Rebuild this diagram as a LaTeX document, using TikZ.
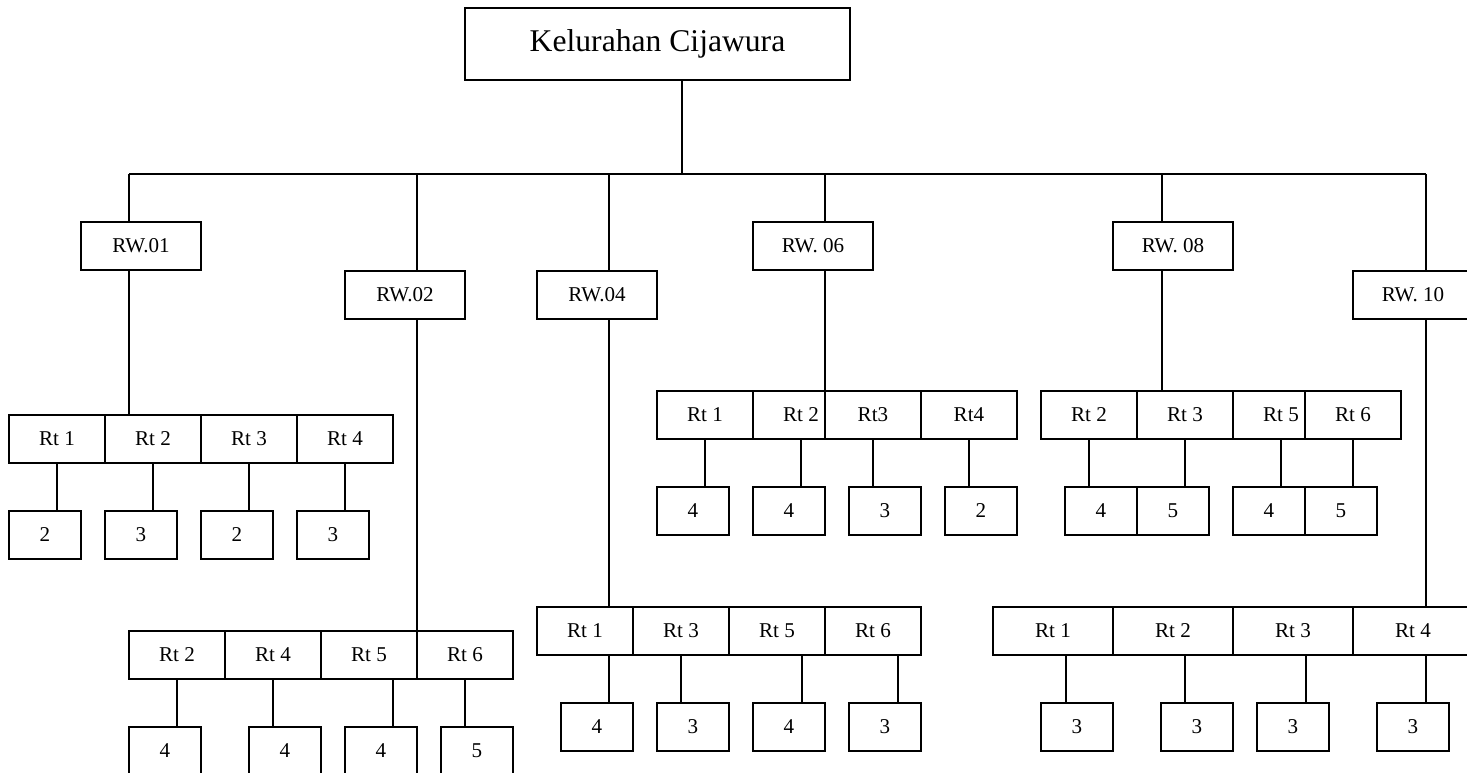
\documentclass[tikz,border=0pt]{standalone}
\usepackage{fontspec}
\setmainfont{Liberation Serif}
\usetikzlibrary{positioning}

\begin{document}
\begin{tikzpicture}[
    x=0.02cm, y=-0.02cm,
    line width=1pt,
    topNode/.style={rectangle, draw, fill=white, outer sep=0pt, inner sep=0pt, minimum width=7.7cm, minimum height=1.44cm, font=\fontsize{18}{20}\selectfont},
    rwNode/.style={rectangle, draw, fill=white, outer sep=0pt, inner sep=0pt, minimum width=2.4cm, minimum height=0.96cm, font=\fontsize{12}{14}\selectfont},
    rtNode/.style={rwNode, minimum width=1.92cm},
    numNode/.style={rwNode, minimum width=1.44cm}
]
    \useasboundingbox (0,0) rectangle (1467,773);
    \clip (0,0) rectangle (1467,773);

    % Top node
    \node[topNode] (kel) at (657.5,44) {Kelurahan Cijawura};

    % RW nodes
    \node[rwNode] (rw01) at (141,246) {RW.01};
    \node[rwNode] (rw02) at (405,295) {RW.02};
    \node[rwNode] (rw04) at (597,295) {RW.04};
    \node[rwNode] (rw06) at (813,246) {RW. 06};
    \node[rwNode] (rw08) at (1173,246) {RW. 08};
    \node[rwNode] (rw10) at (1413,295) {RW. 10};

    % RW.01
    \node[rtNode] (r01a) at (57,439) {Rt 1};
    \node[rtNode, right=0pt of r01a] (r01b) {Rt 2};
    \node[rtNode, right=0pt of r01b] (r01c) {Rt 3};
    \node[rtNode, right=0pt of r01c] (r01d) {Rt 4};
    \node[numNode] (c01a) at (45,535) {2};
    \node[numNode] (c01b) at (141,535) {3};
    \node[numNode] (c01c) at (237,535) {2};
    \node[numNode] (c01d) at (333,535) {3};

    % RW.02
    \node[rtNode] (r02a) at (177,655) {Rt 2};
    \node[rtNode, right=0pt of r02a] (r02b) {Rt 4};
    \node[rtNode, right=0pt of r02b] (r02c) {Rt 5};
    \node[rtNode, right=0pt of r02c] (r02d) {Rt 6};
    \node[numNode] (c02a) at (165,751) {4};
    \node[numNode] (c02b) at (285,751) {4};
    \node[numNode] (c02c) at (381,751) {4};
    \node[numNode] (c02d) at (477,751) {5};

    % RW.04
    \node[rtNode] (r04a) at (585,631) {Rt 1};
    \node[rtNode, right=0pt of r04a] (r04b) {Rt 3};
    \node[rtNode, right=0pt of r04b] (r04c) {Rt 5};
    \node[rtNode, right=0pt of r04c] (r04d) {Rt 6};
    \node[numNode] (c04a) at (597,727) {4};
    \node[numNode] (c04b) at (693,727) {3};
    \node[numNode] (c04c) at (789,727) {4};
    \node[numNode] (c04d) at (885,727) {3};

    % RW.06
    \node[rtNode] (r06a) at (705,415) {Rt 1};
    \node[rtNode, right=0pt of r06a] (r06b) {Rt 2};
    \node[rtNode, right=-0.48cm of r06b] (r06c) {Rt3};
    \node[rtNode, right=0pt of r06c] (r06d) {Rt4};
    \node[numNode] (c06a) at (693,511) {4};
    \node[numNode] (c06b) at (789,511) {4};
    \node[numNode] (c06c) at (885,511) {3};
    \node[numNode] (c06d) at (981,511) {2};

    % RW.08
    \node[rtNode] (r08a) at (1089,415) {Rt 2};
    \node[rtNode, right=0pt of r08a] (r08b) {Rt 3};
    \node[rtNode, right=0pt of r08b] (r08c) {Rt 5};
    \node[rtNode, right=-0.48cm of r08c] (r08d) {Rt 6};
    \node[numNode] (c08a) at (1101,511) {4};
    \node[numNode] (c08b) at (1173,511) {5};
    \node[numNode] (c08c) at (1269,511) {4};
    \node[numNode] (c08d) at (1341,511) {5};

    % RW.10
    \node[rwNode] (r10a) at (1053,631) {Rt 1};
    \node[rwNode, right=0pt of r10a] (r10b) {Rt 2};
    \node[rwNode, right=0pt of r10b] (r10c) {Rt 3};
    \node[rwNode, right=0pt of r10c] (r10d) {Rt 4};
    \node[numNode] (c10a) at (1077,727) {3};
    \node[numNode] (c10b) at (1197,727) {3};
    \node[numNode] (c10c) at (1293,727) {3};
    \node[numNode] (c10d) at (1413,727) {3};

    % Bus line
    \coordinate (top) at (682,174);
    \coordinate (b01) at (129,174);
    \coordinate (b02) at (417,174);
    \coordinate (b04) at (609,174);
    \coordinate (b06) at (825,174);
    \coordinate (b08) at (1162,174);
    \coordinate (b10) at (1426,174);
    \draw (kel.south -| top) -- (top);
    \draw (b01) -- (b10);

    % Drops to RW and Rt rows
    \draw (b01) -- (b01 |- rw01.north);
    \draw (b01 |- rw01.south) -- (b01 |- r01b.north);
    \draw (b02) -- (b02 |- rw02.north);
    \draw (b02 |- rw02.south) -- (b02 |- r02d.north);
    \draw (b04) -- (b04 |- rw04.north);
    \draw (b04 |- rw04.south) -- (b04 |- r04a.north);
    \draw (b06) -- (b06 |- rw06.north);
    \draw (b06 |- rw06.south) -- (b06 |- r06b.north);
    \draw (b08) -- (b08 |- rw08.north);
    \draw (b08 |- rw08.south) -- (b08 |- r08b.north);
    \draw (b10) -- (b10 |- rw10.north);
    \draw (b10 |- rw10.south) -- (b10 |- r10d.north);

    % Rt to counts
    \draw (r01a.south) -- (r01a.south |- c01a.north);
    \draw (r01b.south) -- (r01b.south |- c01b.north);
    \draw (r01c.south) -- (r01c.south |- c01c.north);
    \draw (r01d.south) -- (r01d.south |- c01d.north);

    \draw (r02a.south) -- (r02a.south |- c02a.north);
    \draw (r02b.south) -- (r02b.south |- c02b.north);
    \draw ([xshift=0.48cm]r02c.south) -- ([xshift=0.48cm]r02c.south |- c02c.north);
    \draw (r02d.south) -- (r02d.south |- c02d.north);

    \draw (b04 |- r04a.south) -- (b04 |- c04a.north);
    \draw (r04b.south) -- (r04b.south |- c04b.north);
    \draw ([xshift=0.5cm]r04c.south) -- ([xshift=0.5cm]r04c.south |- c04c.north);
    \draw ([xshift=0.5cm]r04d.south) -- ([xshift=0.5cm]r04d.south |- c04d.north);

    \draw (r06a.south) -- (r06a.south |- c06a.north);
    \draw (r06b.south) -- (r06b.south |- c06b.north);
    \draw (r06c.south) -- (r06c.south |- c06c.north);
    \draw (r06d.south) -- (r06d.south |- c06d.north);

    \draw (r08a.south) -- (r08a.south |- c08a.north);
    \draw (r08b.south) -- (r08b.south |- c08b.north);
    \draw (r08c.south) -- (r08c.south |- c08c.north);
    \draw (r08d.south) -- (r08d.south |- c08d.north);

    \draw ([xshift=0.26cm]r10a.south) -- ([xshift=0.26cm]r10a.south |- c10a.north);
    \draw ([xshift=0.24cm]r10b.south) -- ([xshift=0.24cm]r10b.south |- c10b.north);
    \draw ([xshift=0.26cm]r10c.south) -- ([xshift=0.26cm]r10c.south |- c10c.north);
    \draw (b10 |- r10d.south) -- (b10 |- c10d.north);

\end{tikzpicture}
\end{document}
